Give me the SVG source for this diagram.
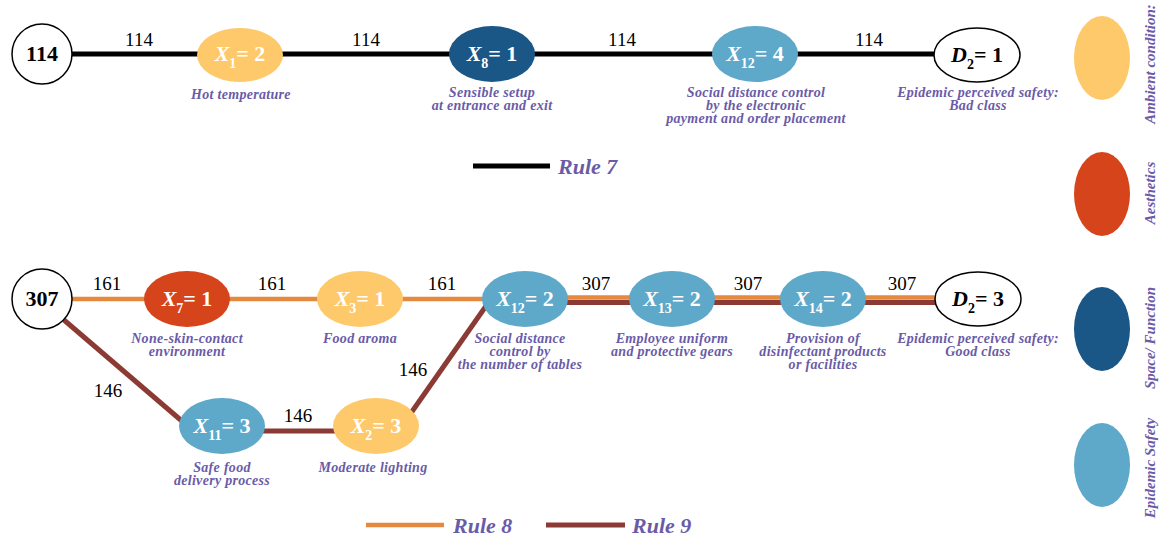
<svg xmlns="http://www.w3.org/2000/svg" width="1163" height="543" viewBox="0 0 1163 543">
<style>
.lbl{font-family:"Liberation Serif",serif;font-weight:bold;font-style:italic;font-size:14px;letter-spacing:0.3px;fill:#6A5BA8;text-anchor:middle}
.num{font-family:"Liberation Serif",serif;font-size:19px;fill:#000;text-anchor:middle}
.nt{font-family:"Liberation Serif",serif;font-weight:bold;font-size:22px;fill:#fff;text-anchor:middle}
.dt{font-family:"Liberation Serif",serif;font-weight:bold;font-size:22px;fill:#000;text-anchor:middle}
.it{font-style:italic}
.sub{font-size:14px}
.rule{font-family:"Liberation Serif",serif;font-weight:bold;font-style:italic;font-size:22px;fill:#6A5BA8}
.leg{font-family:"Liberation Serif",serif;font-weight:bold;font-style:italic;font-size:15px;fill:#6A5BA8;text-anchor:middle}
.yel{fill:#FEC96B}.red{fill:#D6441B}.dblue{fill:#1A5686}.lblue{fill:#5EA8CA}
.wht{fill:#fff;stroke:#000;stroke-width:1.5}
.k{stroke:#000;stroke-width:5;fill:none}
.o{stroke:#E5893F;stroke-width:4.5;fill:none}
.b{stroke:#8B3A34;stroke-width:5;fill:none}
</style>
<g id="connectors">
<line class="k" x1="72" y1="54" x2="936" y2="54"/>
<line class="o" x1="72" y1="299" x2="525" y2="299"/>
<line class="o" x1="525" y1="297.5" x2="936" y2="297.5"/>
<line class="b" x1="525" y1="302.5" x2="936" y2="302.5"/>
<line class="b" x1="64" y1="320" x2="190" y2="428"/>
<line class="b" x1="222" y1="431" x2="376" y2="431"/>
<line class="b" x1="404" y1="423" x2="493" y2="296"/>
</g>
<g id="edge-labels">
<text class="num" x="139" y="46">114</text>
<text class="num" x="366" y="46">114</text>
<text class="num" x="622" y="46">114</text>
<text class="num" x="869" y="46">114</text>
<text class="num" x="107" y="290">161</text>
<text class="num" x="272" y="290">161</text>
<text class="num" x="442" y="290">161</text>
<text class="num" x="596" y="290">307</text>
<text class="num" x="748" y="290">307</text>
<text class="num" x="902" y="290">307</text>
<text class="num" x="108" y="397">146</text>
<text class="num" x="298" y="422">146</text>
<text class="num" x="413" y="376">146</text>
</g>
<g id="n114">
<circle class="wht" cx="42" cy="54" r="30"/>
<text class="dt" x="42" y="61">114</text>
</g>
<g id="nX1">
<ellipse class="yel" cx="240" cy="55" rx="43" ry="27"/>
<text class="nt" x="240" y="61"><tspan class="it">X</tspan><tspan class="sub" dy="7">1</tspan><tspan dy="-7">= 2</tspan></text>
<text class="lbl" x="241" y="99">Hot temperature</text>
</g>
<g id="nX8">
<ellipse class="dblue" cx="492" cy="54" rx="43" ry="28"/>
<text class="nt" x="492" y="61"><tspan class="it">X</tspan><tspan class="sub" dy="7">8</tspan><tspan dy="-7">= 1</tspan></text>
<text class="lbl" x="492" y="97">Sensible setup</text>
<text class="lbl" x="492" y="110">at entrance and exit</text>
</g>
<g id="nX12a">
<ellipse class="lblue" cx="755" cy="54" rx="43" ry="28"/>
<text class="nt" x="755" y="61"><tspan class="it">X</tspan><tspan class="sub" dy="7">12</tspan><tspan dy="-7">= 4</tspan></text>
<text class="lbl" x="756" y="97">Social distance control</text>
<text class="lbl" x="756" y="110">by the electronic</text>
<text class="lbl" x="756" y="123">payment and order placement</text>
</g>
<g id="nD2a">
<ellipse class="wht" cx="977" cy="55" rx="43" ry="27"/>
<text class="dt" x="977" y="62"><tspan class="it">D</tspan><tspan class="sub" dy="7">2</tspan><tspan dy="-7">= 1</tspan></text>
<text class="lbl" x="978" y="97">Epidemic perceived safety:</text>
<text class="lbl" x="978" y="110">Bad class</text>
</g>
<g id="legend-rule7">
<line class="k" x1="473" y1="166" x2="550" y2="166"/>
<text class="rule" x="558" y="174">Rule 7</text>
</g>
<g id="n307">
<circle class="wht" cx="42" cy="299" r="30"/>
<text class="dt" x="42" y="306">307</text>
</g>
<g id="nX7">
<ellipse class="red" cx="187" cy="299" rx="43" ry="28"/>
<text class="nt" x="187" y="306"><tspan class="it">X</tspan><tspan class="sub" dy="7">7</tspan><tspan dy="-7">= 1</tspan></text>
<text class="lbl" x="187" y="343">None-skin-contact</text>
<text class="lbl" x="187" y="356">environment</text>
</g>
<g id="nX3">
<ellipse class="yel" cx="360" cy="299" rx="43" ry="28"/>
<text class="nt" x="360" y="306"><tspan class="it">X</tspan><tspan class="sub" dy="7">3</tspan><tspan dy="-7">= 1</tspan></text>
<text class="lbl" x="360" y="343">Food aroma</text>
</g>
<g id="nX12b">
<ellipse class="lblue" cx="525" cy="299" rx="43" ry="28"/>
<text class="nt" x="525" y="306"><tspan class="it">X</tspan><tspan class="sub" dy="7">12</tspan><tspan dy="-7">= 2</tspan></text>
<text class="lbl" x="520" y="343">Social distance</text>
<text class="lbl" x="520" y="356">control by</text>
<text class="lbl" x="520" y="369">the number of tables</text>
</g>
<g id="nX13">
<ellipse class="lblue" cx="672" cy="299" rx="43" ry="28"/>
<text class="nt" x="672" y="306"><tspan class="it">X</tspan><tspan class="sub" dy="7">13</tspan><tspan dy="-7">= 2</tspan></text>
<text class="lbl" x="672" y="343">Employee uniform</text>
<text class="lbl" x="672" y="356">and protective gears</text>
</g>
<g id="nX14">
<ellipse class="lblue" cx="823" cy="299" rx="43" ry="28"/>
<text class="nt" x="823" y="306"><tspan class="it">X</tspan><tspan class="sub" dy="7">14</tspan><tspan dy="-7">= 2</tspan></text>
<text class="lbl" x="823" y="343">Provision of</text>
<text class="lbl" x="823" y="356">disinfectant products</text>
<text class="lbl" x="823" y="369">or facilities</text>
</g>
<g id="nD2b">
<ellipse class="wht" cx="978" cy="299" rx="43" ry="27"/>
<text class="dt" x="978" y="306"><tspan class="it">D</tspan><tspan class="sub" dy="7">2</tspan><tspan dy="-7">= 3</tspan></text>
<text class="lbl" x="978" y="343">Epidemic perceived safety:</text>
<text class="lbl" x="978" y="356">Good class</text>
</g>
<g id="nX11">
<ellipse class="lblue" cx="222" cy="426" rx="43" ry="28"/>
<text class="nt" x="222" y="433"><tspan class="it">X</tspan><tspan class="sub" dy="7">11</tspan><tspan dy="-7">= 3</tspan></text>
<text class="lbl" x="222" y="472">Safe food</text>
<text class="lbl" x="222" y="485">delivery process</text>
</g>
<g id="nX2">
<ellipse class="yel" cx="376" cy="426" rx="43" ry="28"/>
<text class="nt" x="376" y="433"><tspan class="it">X</tspan><tspan class="sub" dy="7">2</tspan><tspan dy="-7">= 3</tspan></text>
<text class="lbl" x="373" y="472">Moderate lighting</text>
</g>
<g id="legend-rules">
<line class="o" x1="366" y1="525" x2="444" y2="525"/>
<text class="rule" x="453" y="533">Rule 8</text>
<line class="b" x1="546" y1="525" x2="625" y2="525"/>
<text class="rule" x="632" y="533">Rule 9</text>
</g>
<g id="legend-categories">
<ellipse class="yel" cx="1102" cy="58" rx="28" ry="42"/>
<ellipse class="red" cx="1102" cy="194" rx="28" ry="42"/>
<ellipse class="dblue" cx="1102" cy="329" rx="28" ry="42"/>
<ellipse class="lblue" cx="1102" cy="465" rx="28" ry="42"/>
<text class="leg" transform="translate(1155,64) rotate(-90)">Ambient condition:</text>
<text class="leg" transform="translate(1155,193) rotate(-90)">Aesthetics</text>
<text class="leg" transform="translate(1155,338) rotate(-90)">Space/ Function</text>
<text class="leg" transform="translate(1155,468) rotate(-90)">Epidemic Safety</text>
</g>
</svg>
